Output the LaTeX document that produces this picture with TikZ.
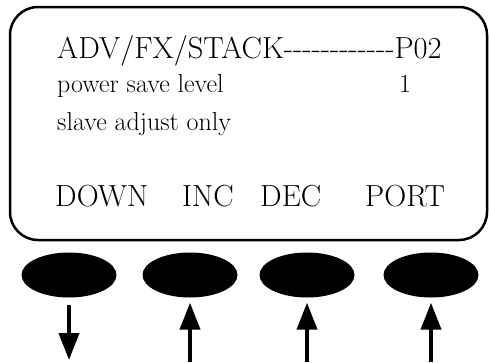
\documentclass[tikz,border=0pt]{standalone}
\usetikzlibrary{shapes.geometric,arrows.meta}
\begin{document}
\begin{tikzpicture}[x=1pt,y=-1pt,
    key/.style={ellipse,fill=black,minimum width=95pt,minimum height=45pt,inner sep=0pt},
    push/.style={line width=4pt,-{Triangle[length=27pt,width=20pt]}},
    big/.style={font=\fontsize{30.5}{30.5}\selectfont,anchor=base west,inner sep=0pt},
    small/.style={font=\fontsize{26}{26}\selectfont,anchor=base west,inner sep=0pt}]
    \useasboundingbox (0,0) rectangle (490,362);
    % display
    \draw[line width=2.5pt,rounded corners=28pt] (10,7) rectangle (487,240);
    \node[big] (title) at (57,58) {ADV/FX/STACK-{}-{}-{}-{}-{}-{}-{}-{}-{}-{}-{}-P02};
    \node[small] (line1) at (57,92) {power save level};
    \node[small] (value) at (399,92) {1};
    \node[small] (line2) at (57,130) {slave adjust only};
    \node[big] (down) at (55,206) {DOWN};
    \node[big] (inc) at (182,206) {INC};
    \node[big] (dec) at (260,206) {DEC};
    \node[big] (port) at (365,206) {PORT};
    % keys
    \node[key] (k1) at (69,275) {};
    \node[key] (k2) at (190,275) {};
    \node[key] (k3) at (307,275) {};
    \node[key] (k4) at (431,275) {};
    \coordinate (e1) at (69,360);
    \coordinate (e2) at (190,362);
    \coordinate (e3) at (307,362);
    \coordinate (e4) at (431,362);
    \draw[push, shorten <=7pt] (k1.south) -- (e1);
    \draw[push, shorten >=5pt] (e2) -- (k2.south);
    \draw[push, shorten >=5pt] (e3) -- (k3.south);
    \draw[push, shorten >=5pt] (e4) -- (k4.south);
\end{tikzpicture}
\end{document}
